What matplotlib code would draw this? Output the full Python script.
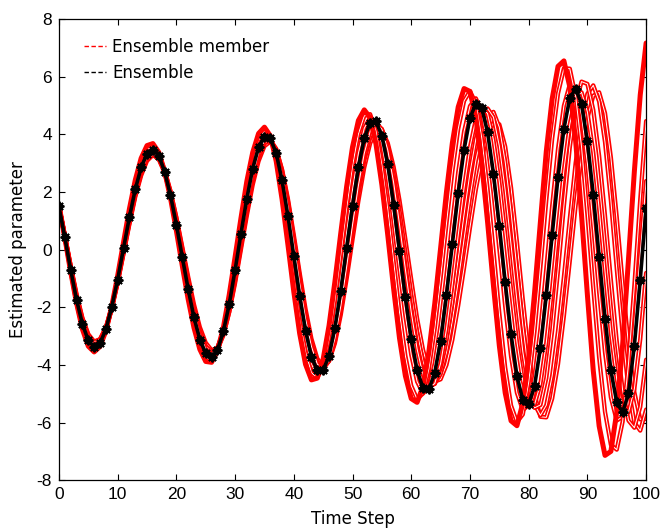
import numpy as np
import matplotlib
matplotlib.use("Agg")
import matplotlib.pyplot as plt
from matplotlib.lines import Line2D
from matplotlib import font_manager as fm

plt.rcParams["axes.unicode_minus"] = False

# ---------------- data ----------------
time_step = list(range(0, 101))

ensemble = [1.50, 0.43, -0.69, -1.74, -2.58, -3.15, -3.37,
            -3.24, -2.77, -1.99, -1.04, 0.05, 1.12, 2.09, 2.85, 3.33,
            3.47, 3.26, 2.71, 1.89, 0.87, -0.25, -1.36, -2.35, -3.12, -3.60,
            -3.74, -3.49, -2.84, -1.90, -0.71, 0.55, 1.77, 2.81, 3.55, 3.92,
            3.86, 3.35, 2.40, 1.17, -0.22, -1.60, -2.81, -3.71, -4.19,
            -4.18, -3.69, -2.71, -1.42, 0.06, 1.53, 2.85, 3.86, 4.41,
            4.45, 3.95, 2.96, 1.56, -0.04, -1.65, -3.10, -4.18, -4.80,
            -4.85, -4.28, -3.17, -1.58, 0.19, 1.96, 3.47, 4.57, 5.07,
            4.92, 4.08, 2.64, 0.83, -1.13, -2.94, -4.38, -5.22,
            -5.36, -4.74, -3.41, -1.59, 0.50, 2.51, 4.19, 5.26,
            5.58, 5.06, 3.76, 1.91, -0.25, -2.39, -4.19, -5.30,
            -5.65, -4.99, -3.33, -1.05, 1.45]

member_a1 = [1.56, 0.42, -0.77, -1.85, -2.76, -3.35, -3.55, -3.36, -2.82, -1.97, -0.91, 0.25, 1.41, 2.41, 3.17, 3.61,
             3.68, 3.38, 2.72, 1.79, 0.66, -0.55, -1.71, -2.71, -3.46, -3.88, -3.91, -3.51, -2.71, -1.57, -0.26, 1.09,
             2.37, 3.37, 4.03, 4.25, 3.95, 3.07, 1.75, 0.17, -1.46, -2.91, -3.98, -4.52, -4.46, -3.80, -2.64, -1.11,
             0.57, 2.19, 3.56, 4.48, 4.85, 4.58, 3.66, 2.25, 0.51, -1.35, -3.07, -4.38, -5.17, -5.30, -4.74, -3.55,
             -1.88, 0.05, 2.00, 3.70, 4.95, 5.59, 5.49, 4.59, 3.01, 0.96, -1.25, -3.33, -4.97, -5.94, -6.11, -5.33,
             -3.73, -1.50, 0.97, 3.41, 5.23, 6.36, 6.55, 5.65, 3.77, 1.21, -1.57, -4.20, -6.12, -7.14, -7.00, -5.64,
             -3.30, -0.33, 2.72, 5.37, 7.17]

member_a2 = [1.53, 0.42, -0.74, -1.85, -2.70, -3.27, -3.48, -3.31, -2.80, -2.00, -0.98, 0.15, 1.26, 2.26, 3.02, 3.48,
             3.59, 3.34, 2.74, 1.87, 0.80, -0.37, -1.50, -2.51, -3.28, -3.74, -3.85, -3.54, -2.83, -1.79, -0.53, 0.79,
             2.05, 3.10, 3.80, 4.11, 3.94, 3.22, 2.06, 0.61, -0.94, -2.44, -3.55, -4.27, -4.44, -4.04, -3.10, -1.76,
             -0.18, 1.44, 2.91, 4.01, 4.64, 4.70, 4.11, 2.93, 1.39, -0.41, -2.17, -3.68, -4.72, -5.19, -4.99, -4.14,
             -2.74, -0.99, 0.90, 2.71, 4.19, 5.16, 5.50, 5.08, 3.89, 2.11, -0.03, -2.20, -4.09, -5.41, -5.98, -5.72,
             -4.61, -2.83, -0.61, 1.71, 3.85, 5.42, 6.29, 6.28, 5.32, 3.57, 1.22, -1.33, -3.74, -5.63, -6.77, -6.94,
             -5.97, -3.96, -1.24, 1.74, 4.46]

member_b1 = [1.53, 0.45, -0.69, -1.75, -2.60, -3.19, -3.42, -3.28, -2.80, -2.01, -1.05, 0.05, 1.14, 2.12, 2.90, 3.38,
             3.52, 3.30, 2.73, 1.88, 0.83, -0.31, -1.45, -2.43, -3.21, -3.68, -3.79, -3.50, -2.81, -1.80, -0.60, 0.69,
             1.91, 2.96, 3.66, 4.00, 3.89, 3.29, 2.27, 0.92, -0.53, -1.95, -3.14, -3.98, -4.34, -4.18, -3.50, -2.38,
             -0.96, 0.59, 2.08, 3.34, 4.21, 4.59, 4.41, 3.68, 2.49, 0.97, -0.70, -2.29, -3.65, -4.58, -4.99, -4.79,
             -3.95, -2.60, -0.88, 0.96, 2.69, 4.10, 4.98, 5.25, 4.79, 3.66, 1.99, 0.03, -1.97, -3.71, -4.97, -5.57,
             -5.39, -4.40, -2.75, -0.66, 1.52, 3.50, 4.99, 5.73, 5.63, 4.67, 2.98, 0.82, -1.47, -3.57, -5.13, -5.93,
             -5.80, -4.65, -2.65, -0.17, 2.38]

member_b2 = [1.51, 0.47, -0.63, -1.65, -2.48, -3.06, -3.30, -3.18, -2.74, -2.01, -1.08, -0.04, 1.02, 1.97, 2.72, 3.21,
             3.38, 3.21, 2.71, 1.94, 0.96, -0.12, -1.20, -2.18, -2.95, -3.45, -3.62, -3.42, -2.85, -1.96, -0.85, 0.36,
             1.55, 2.60, 3.35, 3.78, 3.81, 3.41, 2.61, 1.49, 0.19, -1.16, -2.40, -3.36, -3.97, -4.15, -3.85, -3.08,
             -1.97, -0.60, 0.85, 2.22, 3.34, 4.10, 4.40, 4.18, 3.46, 2.33, 0.88, -0.68, -2.17, -3.45, -4.35, -4.78,
             -4.65, -3.95, -2.76, -1.19, 0.50, 2.15, 3.55, 4.52, 4.94, 4.72, 3.81, 2.35, 0.53, -1.40, -3.20, -4.55,
             -5.32, -5.38, -4.66, -3.23, -1.34, 0.76, 2.76, 4.35, 5.30, 5.46, 4.78, 3.37, 1.42, -0.76, -2.90, -4.50,
             -5.49, -5.65, -4.83, -3.11, -0.81]

member_c1 = [1.51, 0.49, -0.57, -1.59, -2.40, -2.97, -3.21, -3.11, -2.69, -1.99, -1.09, -0.06, 0.97, 1.92, 2.66, 3.13,
             3.30, 3.14, 2.66, 1.91, 0.97, -0.07, -1.13, -2.08, -2.84, -3.35, -3.55, -3.39, -2.86, -2.03, -0.94, 0.24,
             1.43, 2.44, 3.24, 3.70, 3.78, 3.41, 2.62, 1.48, 0.19, -1.16, -2.39, -3.36, -3.95, -4.09, -3.77, -3.03,
             -1.94, -0.61, 0.76, 2.09, 3.18, 3.92, 4.24, 4.08, 3.42, 2.35, 0.97, -0.56, -2.04, -3.31, -4.25, -4.71,
             -4.66, -4.12, -3.15, -1.83, -0.32, 1.23, 2.66, 3.83, 4.60, 4.90, 4.60, 3.60, 2.06, 0.17, -1.78, -3.54,
             -4.83, -5.49, -5.39, -4.46, -2.81, -0.72, 1.51, 3.54, 5.06, 5.83, 5.75, 4.85, 3.25, 1.18, -1.06, -3.18,
             -4.88, -5.93, -6.18, -5.46, -3.82]

member_c2 = [1.53, 0.50, -0.59, -1.63, -2.45, -3.02, -3.27, -3.17, -2.75, -2.06, -1.15, -0.12, 0.92, 1.89, 2.64, 3.15,
             3.35, 3.21, 2.76, 2.03, 1.09, 0.04, -1.03, -2.03, -2.83, -3.36, -3.59, -3.47, -2.97, -2.16, -1.08, 0.11,
             1.30, 2.38, 3.19, 3.69, 3.81, 3.50, 2.75, 1.68, 0.39, -0.94, -2.24, -3.23, -3.87, -4.10, -3.87, -3.17,
             -2.11, -0.82, 0.60, 1.94, 3.09, 3.90, 4.28, 4.18, 3.61, 2.63, 1.36, -0.10, -1.56, -2.86, -3.89, -4.49,
             -4.64, -4.32, -3.56, -2.46, -1.10, 0.37, 1.81, 3.09, 4.06, 4.65, 4.78, 4.25, 3.05, 1.31, -0.68, -2.63,
             -4.27, -5.37, -5.75, -5.40, -4.38, -2.82, -0.94, 1.07, 3.01, 4.45, 5.41, 5.70, 5.14, 3.73, 1.70, -0.66,
             -2.95, -4.82, -6.00, -6.28, -5.55]

member_c3 = [1.49, 0.50, -0.55, -1.54, -2.37, -2.93, -3.19, -3.11, -2.71, -2.02, -1.15, -0.14, 0.88, 1.83, 2.57, 3.08,
             3.28, 3.15, 2.72, 2.02, 1.12, 0.10, -0.93, -1.90, -2.69, -3.23, -3.49, -3.41, -2.96, -2.17, -1.16, 0.01,
             1.18, 2.25, 3.07, 3.59, 3.75, 3.48, 2.78, 1.76, 0.51, -0.81, -2.06, -3.09, -3.78, -4.05, -3.86, -3.25,
             -2.26, -1.01, 0.35, 1.69, 2.85, 3.69, 4.14, 4.14, 3.70, 2.87, 1.71, 0.36, -1.04, -2.39, -3.47, -4.22,
             -4.58, -4.50, -4.00, -3.13, -1.94, -0.63, 0.76, 2.08, 3.17, 3.98, 4.40, 4.35, 3.58, 2.15, 0.28, -1.73,
             -3.60, -5.03, -5.80, -5.82, -5.17, -3.97, -2.30, -0.40, 1.54, 3.24, 4.56, 5.34, 5.46, 4.74, 3.20, 1.13,
             -1.16, -3.31, -4.95, -5.89, -5.87]

members = [member_c3, member_c2, member_c1, member_b2, member_b1, member_a2, member_a1]
legend_labels = ["Ensemble member", "Ensemble"]
x_ticks = list(range(0, 101, 10))
y_ticks = list(range(-8, 9, 2))

for name, arr in [("ensemble", ensemble)] + [("m%d" % i, m) for i, m in enumerate(members)]:
    if len(arr) != len(time_step):
        raise ValueError("%s has %d values" % (name, len(arr)))

# ---------------- fonts ----------------
installed = {f.name for f in fm.fontManager.ttflist}
tick_font = "Liberation Sans Narrow" if "Liberation Sans Narrow" in installed else "Liberation Sans"

# ---------------- figure ----------------
fig = plt.figure(figsize=(6.62, 5.30), dpi=100)
ax = fig.add_axes([0.089, 0.094, 0.887, 0.870])

for i, m in enumerate(members):
    solid = (i == len(members) - 1)
    ax.plot(time_step, m, color="#ff0000", lw=3.6 if solid else 3.1,
            solid_joinstyle="round", solid_capstyle="round", zorder=2)
    if not solid:
        ax.plot(time_step, m, color="white", lw=0.7,
                solid_joinstyle="round", zorder=2)

ax.plot(time_step, ensemble, color="black", lw=2.6, marker=(8, 2, 0),
        ms=7, mew=1.4, solid_joinstyle="round", zorder=3)

ax.set_xlim(0, 100)
ax.set_ylim(-8, 8)
ax.set_xticks(x_ticks)
ax.set_yticks(y_ticks)
ax.set_xticklabels([str(v) for v in x_ticks])
ax.set_yticklabels([str(v) for v in y_ticks])
ax.tick_params(direction="in", top=True, right=True, length=4, width=0.8,
               labelsize=12.5, pad=5)
for lab in ax.get_xticklabels() + ax.get_yticklabels():
    lab.set_family(tick_font)
for sp in ax.spines.values():
    sp.set_linewidth(0.9)
    sp.set_color("black")

ax.set_xlabel("Time Step", fontsize=12, family="DejaVu Sans", labelpad=6)
ax.set_ylabel("Estimated parameter", fontsize=12, family="DejaVu Sans", labelpad=7)

handles = [Line2D([], [], color="red", lw=1.0, ls=(0, (3.2, 1.8))),
           Line2D([], [], color="black", lw=1.0, ls=(0, (3.2, 1.8)))]
ax.legend(handles, legend_labels, loc="upper left",
          bbox_to_anchor=(84 / 662, 1 - 38 / 530), bbox_transform=fig.transFigure,
          frameon=False, borderpad=0, borderaxespad=0, handlelength=1.3,
          handletextpad=0.4, labelspacing=0.45,
          prop={"family": "DejaVu Sans", "size": 12})

fig.savefig("out.png", dpi=100)
